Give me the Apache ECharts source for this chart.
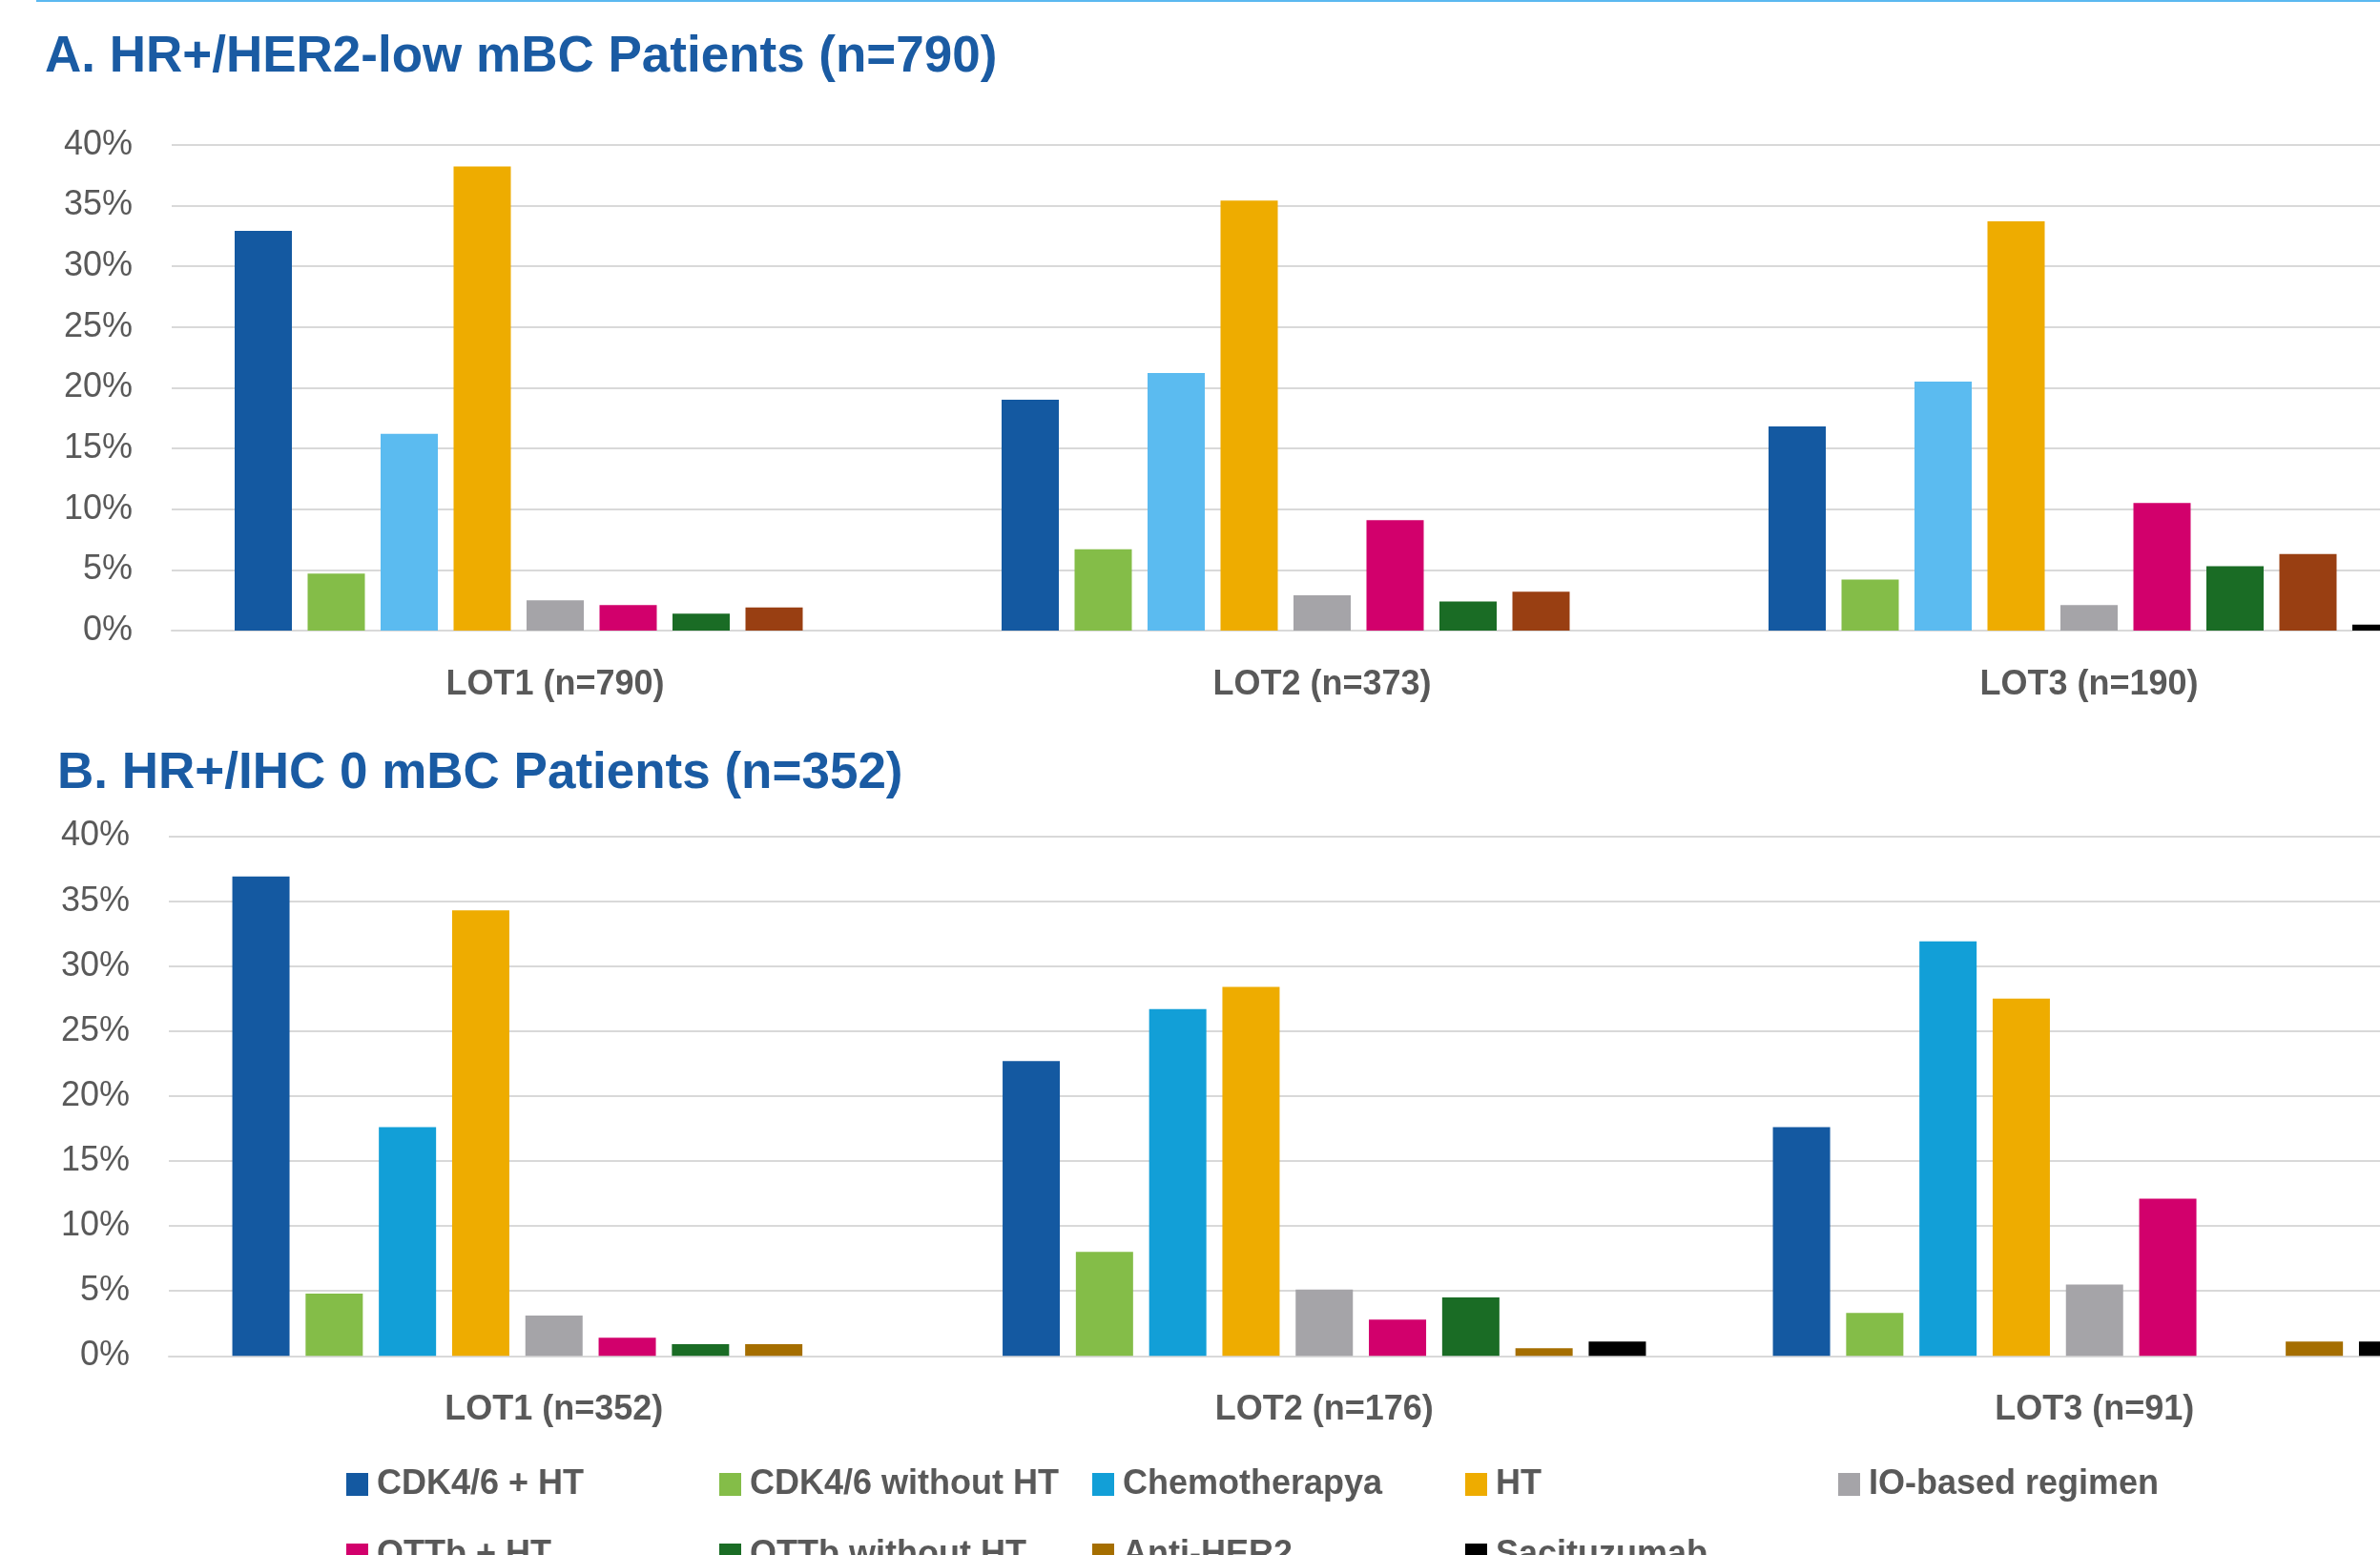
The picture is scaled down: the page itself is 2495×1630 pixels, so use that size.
<!DOCTYPE html>
<html>
<head>
<meta charset="utf-8">
<title>Treatment patterns by line of therapy</title>
<script src="https://cdn.jsdelivr.net/npm/echarts@6/dist/echarts.min.js"></script>
<style>
  html, body { margin: 0; padding: 0; background: #ffffff; }
  #chart { width: 2495px; height: 1630px; }
</style>
</head>
<body>
<div id="chart"></div>
<script>
// Regimen names (series), shared by both panels
const regimens = [
  'CDK4/6 + HT', 'CDK4/6 without HT', 'Chemotherapya', 'HT', 'IO-based regimen',
  'OTTb + HT', 'OTTb without HT', 'Anti-HER2', 'Sacituzumab'
];

// Panel A: HR+/HER2-low, share of patients (%) per line of therapy
const lotsA = ['LOT1 (n=790)', 'LOT2 (n=373)', 'LOT3 (n=190)'];
const cdkHtA      = [32.9, 19.0, 16.8];
const cdkNoHtA    = [4.7, 6.7, 4.2];
const chemoA      = [16.2, 21.2, 20.5];
const htA         = [38.2, 35.4, 33.7];
const ioA         = [2.5, 2.9, 2.1];
const ottbHtA     = [2.1, 9.1, 10.5];
const ottbNoHtA   = [1.4, 2.4, 5.3];
const antiHer2A   = [1.9, 3.2, 6.3];
const saciA       = [0, 0, 0.5];

// Panel B: HR+/IHC 0, share of patients (%) per line of therapy
const lotsB = ['LOT1 (n=352)', 'LOT2 (n=176)', 'LOT3 (n=91)'];
const cdkHtB      = [36.9, 22.7, 17.6];
const cdkNoHtB    = [4.8, 8.0, 3.3];
const chemoB      = [17.6, 26.7, 31.9];
const htB         = [34.3, 28.4, 27.5];
const ioB         = [3.1, 5.1, 5.5];
const ottbHtB     = [1.4, 2.8, 12.1];
const ottbNoHtB   = [0.9, 4.5, 0];
const antiHer2B   = [0.9, 0.6, 1.1];
const saciB       = [0, 1.1, 1.1];

// Y axis ticks (%)
const yTicks = [0, 5, 10, 15, 20, 25, 30, 35, 40];

const titleA = 'A. HR+/HER2-low mBC Patients (n=790)';
const titleB = 'B. HR+/IHC 0 mBC Patients (n=352)';

// Colours
const colorsA = ['#1459A1', '#84BD48', '#5BBBF0', '#EEAC00', '#A5A4A8', '#D2006C', '#1A6C25', '#993F12', '#000000'];
const colorsB = ['#1459A1', '#84BD48', '#129FD7', '#EEAC00', '#A5A4A8', '#D2006C', '#1A6C25', '#A56E00', '#000000'];

const valuesA = [cdkHtA, cdkNoHtA, chemoA, htA, ioA, ottbHtA, ottbNoHtA, antiHer2A, saciA];
const valuesB = [cdkHtB, cdkNoHtB, chemoB, htB, ioB, ottbHtB, ottbNoHtB, antiHer2B, saciB];

const FONT = '"Liberation Sans", Arial, sans-serif';
const GREY_TEXT = '#595959';
const GRID_LINE = '#D9D9D9';
const TITLE_BLUE = '#1A5BA3';

function valueAxis(gridIndex) {
  return {
    type: 'value', gridIndex,
    min: yTicks[0], max: yTicks[yTicks.length - 1], interval: yTicks[1] - yTicks[0],
    axisLine: { show: false }, axisTick: { show: false },
    axisLabel: { formatter: '{value}%', fontFamily: FONT, fontSize: 36, color: GREY_TEXT, margin: 41 },
    splitLine: { show: true, lineStyle: { color: GRID_LINE, width: 2 } }
  };
}

function categoryAxis(gridIndex, cats) {
  return {
    type: 'category', gridIndex, data: cats,
    axisTick: { show: false },
    axisLine: { show: true, lineStyle: { color: GRID_LINE, width: 2 } },
    axisLabel: { fontFamily: FONT, fontSize: 36, fontWeight: 'bold', color: GREY_TEXT, margin: 39 }
  };
}

const series = [];
regimens.forEach((name, i) => {
  series.push({
    name, type: 'bar', xAxisIndex: 0, yAxisIndex: 0,
    data: valuesA[i], barWidth: 60, barGap: '27.5%',
    itemStyle: { color: colorsA[i] }, silent: true
  });
});
regimens.forEach((name, i) => {
  series.push({
    name, type: 'bar', xAxisIndex: 1, yAxisIndex: 1,
    data: valuesB[i], barWidth: 60, barGap: '28%',
    itemStyle: { color: colorsB[i] }, silent: true
  });
});

// Legend laid out as a 5-column grid, two rows
const LEG_COL0 = 363, LEG_COL_W = 391, LEG_ROW0 = 1538, LEG_ROW_H = 74, LEG_COLS = 5;
const legends = regimens.map((name, i) => ({
  data: [{ name, itemStyle: { color: colorsB[i] } }],
  left: LEG_COL0 + (i % LEG_COLS) * LEG_COL_W,
  top: LEG_ROW0 + Math.floor(i / LEG_COLS) * LEG_ROW_H,
  padding: 0, icon: 'rect', itemWidth: 23, itemHeight: 24,
  selectedMode: false,
  textStyle: { fontFamily: FONT, fontSize: 36, fontWeight: 'bold', color: GREY_TEXT, padding: [0, 0, 0, 4] }
}));

const chart = echarts.init(document.getElementById('chart'), null, { renderer: 'canvas' });
chart.setOption({
  animation: false,
  backgroundColor: '#ffffff',
  title: [
    { text: titleA, left: 42, top: 29, textStyle: { fontFamily: FONT, fontSize: 53, fontWeight: 'bold', color: TITLE_BLUE } },
    { text: titleB, left: 55, top: 780, textStyle: { fontFamily: FONT, fontSize: 53, fontWeight: 'bold', color: TITLE_BLUE } }
  ],
  // The plot area runs past the right edge of the canvas; the last group is cut off there
  grid: [
    { left: 180, top: 151.7, width: 2412, height: 509.3, containLabel: false, outerBoundsMode: 'none' },
    { left: 177, top: 876.5, width: 2422.5, height: 544.8, containLabel: false, outerBoundsMode: 'none' }
  ],
  xAxis: [categoryAxis(0, lotsA), categoryAxis(1, lotsB)],
  yAxis: [valueAxis(0), valueAxis(1)],
  legend: legends,
  graphic: [
    { type: 'line', shape: { x1: 38, y1: 1, x2: 2495, y2: 1 }, style: { stroke: '#5BB8F0', lineWidth: 2 }, silent: true }
  ],
  series
});
</script>
</body>
</html>
